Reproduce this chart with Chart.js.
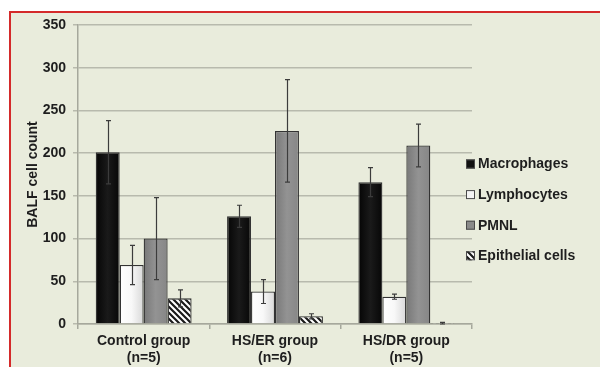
<!DOCTYPE html>
<html>
<head>
<meta charset="utf-8">
<script src="https://cdn.jsdelivr.net/npm/chart.js@4/dist/chart.umd.min.js"></script>
<style>
  html, body { margin: 0; padding: 0; background: #ffffff; }
  #wrap { position: relative; width: 600px; height: 367px; overflow: hidden; }
  #frame {
    position: absolute; left: 9px; top: 11px; width: 620px; height: 400px;
    border-left: 2px solid #d42a2a; border-top: 2px solid #d42a2a;
    background: #e9ecdc;
  }
  #chart { position: absolute; left: 0; top: 0; }
</style>
</head>
<body>
<div id="wrap">
  <div id="frame"></div>
  <canvas id="chart" width="600" height="367"></canvas>
</div>
<script>
// groups on the x axis (two-line labels)
let groups = [["Control group", "(n=5)"], ["HS/ER group", "(n=6)"], ["HS/DR group", "(n=5)"]];

let seriesNames = ["Macrophages", "Lymphocytes", "PMNL", "Epithelial cells"];

// mean values
let macrophages = [201, 126, 166];
let lymphocytes = [69, 38, 32];
let pmnl = [100, 226, 209];
let epithelial = [30, 9, 0.5];

// error (+/-)
let macrophagesErr = [37, 13, 17];
let lymphocytesErr = [23, 14, 3];
let pmnlErr = [48, 60, 25];
let epithelialErr = [10, 3, 1.5];

let yMin = 0;
let yMax = 350;
let yStep = 50;

let errors = [macrophagesErr, lymphocytesErr, pmnlErr, epithelialErr];

let catPct = 0.73;
let fontFamily = "'Liberation Sans', Arial, sans-serif";
let textColor = "#1e1e1e";

// hatch pattern for epithelial cells
function makeHatch(){
    let c = document.createElement("canvas");
    c.width = 6;
    c.height = 6;
    let g = c.getContext("2d");
    g.fillStyle = "#ffffff";
    g.fillRect(0, 0, 6, 6);
    g.strokeStyle = "#1a1a1a";
    g.lineWidth = 2.2;
    g.beginPath();
    g.moveTo(-1, -1); g.lineTo(7, 7);
    g.moveTo(-4, 2); g.lineTo(4, 10);
    g.moveTo(2, -4); g.lineTo(10, 4);
    g.stroke();
    return g.createPattern(c, "repeat");
}

let hatch = makeHatch();

// horizontal gradient across each bar, positioned from the x scale
function barFill(stops){
    return function(c){
        let chart = c.chart;
        let xs = chart.scales.x;
        if(!xs || c.dataIndex === undefined){
            return stops[1];
        }
        let cw = (xs.right - xs.left) / groups.length;
        let bw = cw * catPct / seriesNames.length;
        let cx = xs.getPixelForValue(c.dataIndex) + (c.datasetIndex - 1.5) * bw;
        if(!isFinite(cx) || !isFinite(bw) || bw <= 0){
            return stops[1];
        }
        let g = chart.ctx.createLinearGradient(cx - bw / 2, 0, cx + bw / 2, 0);
        g.addColorStop(0, stops[0]);
        g.addColorStop(0.5, stops[1]);
        g.addColorStop(1, stops[2]);
        return g;
    };
}

let fills = [
    barFill(["#050505", "#1a1a1a", "#070707"]),
    barFill(["#ffffff", "#f8f8f8", "#d8d8d8"]),
    barFill(["#787878", "#939393", "#868686"]),
    function(){ return hatch; }
];

let legendFills = ["#111111", "#f4f4f4", "#8a8a8a", hatch];

// error bars drawn from the y scale
let errorBars = {
    id: "errorBars",
    afterDatasetsDraw(chart){
        let ctx = chart.ctx;
        let ys = chart.scales.y;
        ctx.save();
        ctx.strokeStyle = "#3c3c3c";
        ctx.lineWidth = 1.2;
        for(let d = 0; d < errors.length; d++){
            let meta = chart.getDatasetMeta(d);
            let vals = chart.data.datasets[d].data;
            meta.data.forEach(function(bar, i){
                let v = vals[i];
                let e = errors[d][i];
                let yt = ys.getPixelForValue(v + e);
                let yb = ys.getPixelForValue(Math.max(yMin, v - e));
                let x = Math.round(bar.x) + 0.5;
                ctx.beginPath();
                ctx.moveTo(x, yt);
                ctx.lineTo(x, yb);
                ctx.moveTo(x - 2.5, yt);
                ctx.lineTo(x + 2.5, yt);
                ctx.moveTo(x - 2.5, yb);
                ctx.lineTo(x + 2.5, yb);
                ctx.stroke();
            });
        }
        ctx.restore();
    }
};

// legend on the right
let sideLegend = {
    id: "sideLegend",
    afterDraw(chart){
        let ctx = chart.ctx;
        let area = chart.chartArea;
        let x0 = area.right - 6;
        let yStart = 164;
        let gap = 30.6;
        ctx.save();
        ctx.font = "bold 14px " + fontFamily;
        ctx.textBaseline = "middle";
        for(let i = 0; i < seriesNames.length; i++){
            let y = yStart + i * gap;
            ctx.fillStyle = legendFills[i];
            ctx.fillRect(x0, y - 4.5, 9, 9);
            ctx.strokeStyle = "#4a4a4a";
            ctx.lineWidth = 1;
            ctx.strokeRect(x0 + 0.5, y - 4, 8, 8);
            ctx.fillStyle = textColor;
            ctx.fillText(seriesNames[i], x0 + 12, y + 0.5);
        }
        ctx.restore();
    }
};

let seriesData = [macrophages, lymphocytes, pmnl, epithelial];

let datasets = seriesData.map(function(d, i){
    return {
        label: seriesNames[i],
        data: d,
        backgroundColor: fills[i],
        borderColor: "#333333",
        borderWidth: 1.3,
        barPercentage: 1,
        categoryPercentage: catPct
    };
});

let ctx = document.getElementById("chart").getContext("2d");

let chart = new Chart(ctx, {
    type: "bar",
    data: {
        labels: groups,
        datasets: datasets
    },
    options: {
        responsive: false,
        animation: false,
        layout: { padding: { left: 0, top: 25, right: 128, bottom: 0 } },
        plugins: {
            legend: { display: false },
            tooltip: { enabled: false }
        },
        scales: {
            x: {
                offset: true,
                grid: { offset: true, drawOnChartArea: false, drawTicks: true, tickLength: 5, color: "#a6a89c", lineWidth: 1.5 },
                border: { color: "#a6a89c", width: 1.5 },
                ticks: { color: textColor, padding: 4, font: { family: fontFamily, size: 14, weight: "bold" } },
                afterFit: function(s){ s.height = 43; }
            },
            y: {
                min: yMin,
                max: yMax,
                ticks: { stepSize: yStep, color: textColor, padding: 7, font: { family: fontFamily, size: 14, weight: "bold" } },
                grid: { color: "#b8baad", lineWidth: 1.5, tickLength: 5 },
                border: { color: "#a6a89c", width: 1.5 },
                title: {
                    display: true,
                    text: "BALF cell count",
                    color: textColor,
                    font: { family: fontFamily, size: 14, weight: "bold" },
                    padding: { top: 25, bottom: 0 }
                },
                afterFit: function(s){ s.width = 78; }
            }
        }
    },
    plugins: [errorBars, sideLegend]
});
</script>
</body>
</html>
